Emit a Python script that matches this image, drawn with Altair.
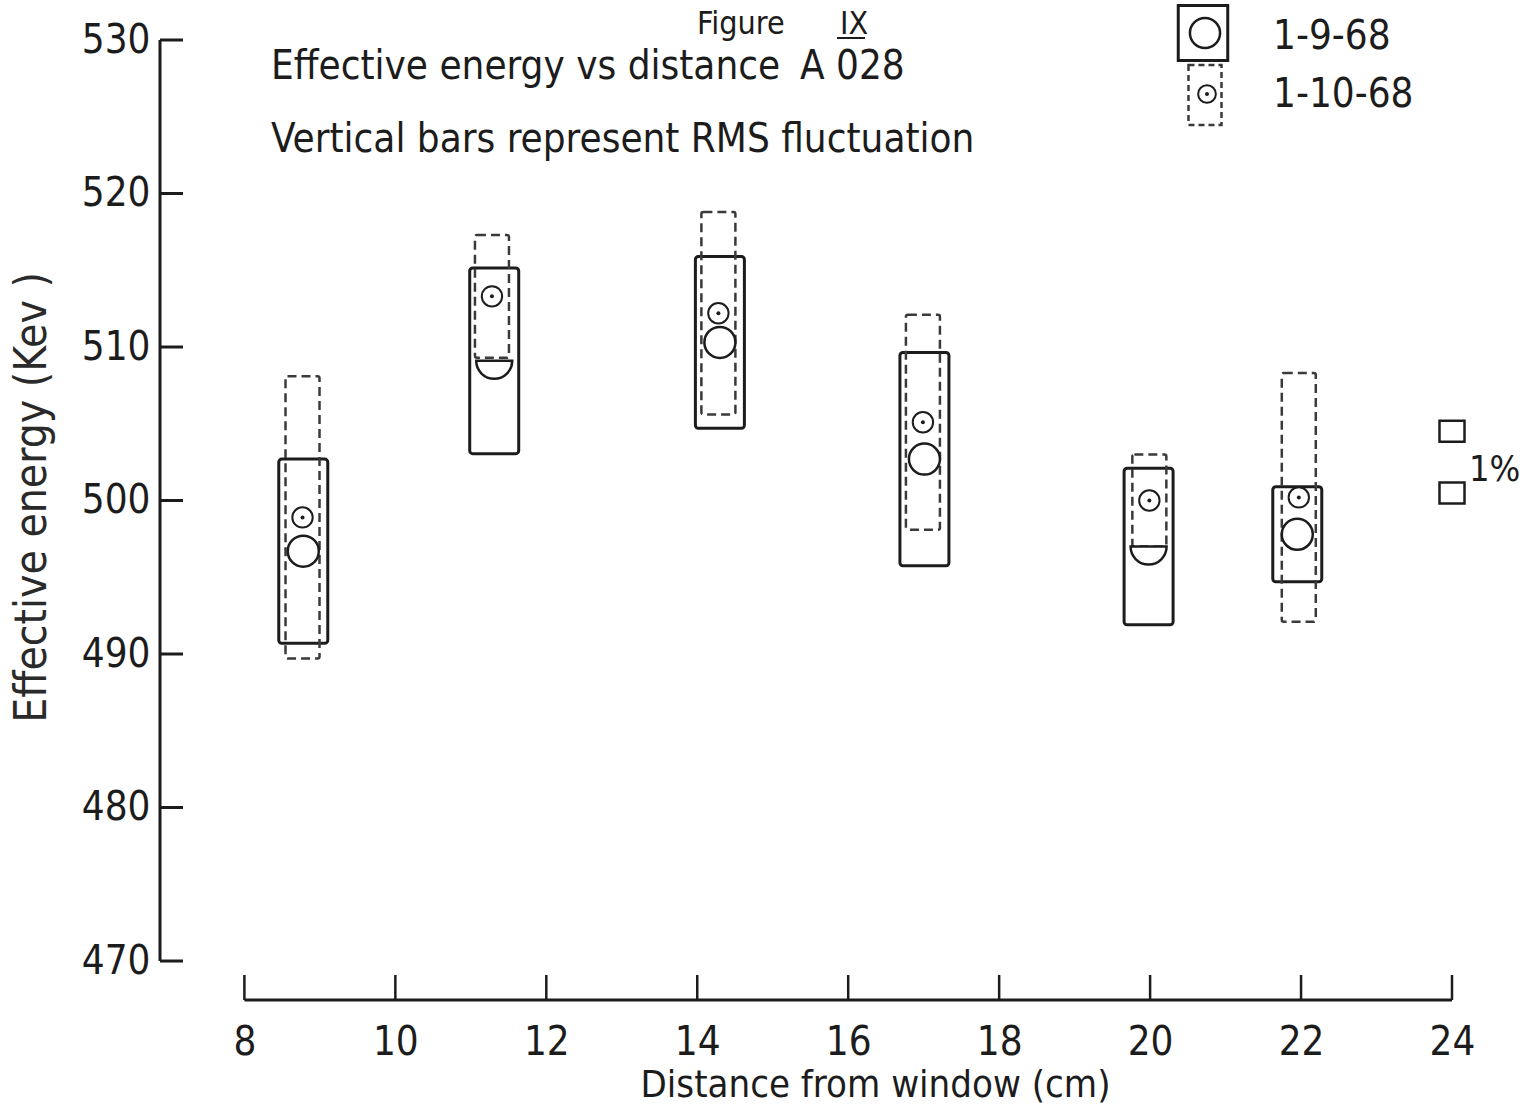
import altair as alt
import pandas as pd

# ---------------- values ----------------
series_names = ["1-9-68", "1-10-68"]

dist_jan9 = [8.78, 11.31, 14.30, 17.01, 19.98, 21.95]
energy_jan9 = [496.7, 509.1, 510.3, 502.7, 497.0, 497.8]
rms_jan9 = [6.0, 6.05, 5.6, 6.95, 5.1, 3.1]

dist_jan10 = [8.77, 11.28, 14.28, 16.99, 19.99, 21.97]
energy_jan10 = [498.9, 513.3, 512.2, 505.1, 500.0, 500.2]
rms_jan10 = [9.2, 4.0, 6.6, 7.0, 3.0, 8.1]

x_tick_values = [8, 10, 12, 14, 16, 18, 20, 22, 24]
y_tick_values = [470, 480, 490, 500, 510, 520, 530]

one_percent_x = [24.0]
one_percent_range = [499.8, 505.2]

figure_word = "Figure"
figure_number = "IX"
note_line1 = "Effective energy vs distance"
note_run = "A 028"
note_line2 = "Vertical bars represent RMS fluctuation"
x_title = "Distance from window (cm)"
y_title = "Effective energy (Kev )"

# ---------------- styles ----------------
INK = "#1c1c1c"
FONT = "DejaVu Sans Condensed, Liberation Sans Narrow, DejaVu Sans, sans-serif"
HALF_MARKER_IDX = [1, 4]          # points drawn as half circles in the original
W, H = 1297, 960
X_DOMAIN = [6.948, 24.0]
Y_DOMAIN = [467.46, 530.0]

xs = alt.Scale(domain=X_DOMAIN, nice=False, zero=False)
ys = alt.Scale(domain=Y_DOMAIN, nice=False, zero=False)

xaxis = alt.Axis(values=x_tick_values, domain=False, ticks=False, grid=False,
                 labelFontSize=40, labelFont=FONT, labelColor=INK, labelPadding=22,
                 labelFlush=False, title=x_title, titleFont=FONT, titleFontSize=38,
                 titleFontWeight="normal", titleColor=INK, titleX=715, titleY=85,
                 titleAlign="center", titleBaseline="middle")
yaxis = alt.Axis(values=y_tick_values, domain=False, ticks=False, grid=False,
                 labelFontSize=40, labelFont=FONT, labelColor=INK, labelPadding=10,
                 title=y_title, titleFont=FONT, titleFontSize=44,
                 titleFontWeight="normal", titleColor="#2a2a2a", titleAngle=270,
                 titleX=-128, titleY=457, titleAlign="center", titleBaseline="middle")


def X(field):
    return alt.X(field, type="quantitative", scale=xs, axis=xaxis)


def Y(field):
    return alt.Y(field, type="quantitative", scale=ys, axis=yaxis)


def series_frame(d, e, r):
    df = pd.DataFrame({"x": d, "e": e, "r": r})
    df["lo"] = df["e"] - df["r"]
    df["hi"] = df["e"] + df["r"]
    return df


df_a = series_frame(dist_jan9, energy_jan9, rms_jan9)
df_a["half"] = [i in HALF_MARKER_IDX for i in range(len(df_a))]
df_b = series_frame(dist_jan10, energy_jan10, rms_jan10)

# ---------------- axes drawn as in the original ----------------
y_line = alt.Chart(pd.DataFrame({"lo": [min(y_tick_values)], "hi": [max(y_tick_values)]})).mark_rule(
    color=INK, strokeWidth=3).encode(x=alt.value(0), y=Y("lo"), y2=alt.Y2("hi"))
y_ticks = alt.Chart(pd.DataFrame({"v": y_tick_values})).mark_rule(
    color=INK, strokeWidth=3).encode(x=alt.value(0), x2=alt.value(23), y=Y("v"))
x_line = alt.Chart(pd.DataFrame({"lo": [min(x_tick_values)], "hi": [max(x_tick_values)]})).mark_rule(
    color=INK, strokeWidth=3).encode(x=X("lo"), x2=alt.X2("hi"), y=alt.value(H))
x_ticks = alt.Chart(pd.DataFrame({"v": x_tick_values})).mark_rule(
    color=INK, strokeWidth=2.5).encode(x=X("v"), y=alt.value(H), y2=alt.value(H - 25))

# ---------------- RMS boxes ----------------
box_a = alt.Chart(df_a).mark_bar(size=49, fill="white", fillOpacity=0, stroke=INK,
                                 strokeWidth=3, cornerRadius=3).encode(
    x=X("x"), y=Y("lo"), y2=alt.Y2("hi"))
box_b = alt.Chart(df_b).mark_bar(size=34, fill="white", fillOpacity=0, stroke="#3a3a3a",
                                 strokeWidth=2.5, strokeDash=[9, 5], cornerRadius=2).encode(
    x=X("x"), y=Y("lo"), y2=alt.Y2("hi"))

# ---------------- markers ----------------
pt_a = alt.Chart(df_a[~df_a["half"]]).mark_point(
    shape="circle", size=962, filled=True, fill="white", stroke=INK, strokeWidth=2.5,
    opacity=1).encode(x=X("x"), y=Y("e"))
pt_a_half = alt.Chart(df_a[df_a["half"]]).mark_point(
    shape="M-1,0A1,1 0 0,0 1,0Z", size=1296, filled=True, fill="white", stroke=INK,
    strokeWidth=2.5, opacity=1).encode(x=X("x"), y=Y("e"))
pt_b = alt.Chart(df_b).mark_point(
    shape="circle", size=415, filled=True, fill="white", stroke=INK, strokeWidth=2,
    opacity=1).encode(x=X("x"), y=Y("e"))
pt_b_dot = alt.Chart(df_b).mark_point(
    shape="circle", size=16, filled=True, color=INK, opacity=1).encode(x=X("x"), y=Y("e"))

# ---------------- 1 % scale ----------------
pct = pd.DataFrame({"x": one_percent_x * 2, "v": one_percent_range})
cap_path = "M-1,-0.84H1V0.84H-1Z"
pct_low = alt.Chart(pct.iloc[[0]]).mark_point(
    shape=cap_path, size=625, filled=False, stroke=INK, strokeWidth=2.5, opacity=1,
    yOffset=-10.5).encode(x=X("x"), y=Y("v"))
pct_high = alt.Chart(pct.iloc[[1]]).mark_point(
    shape=cap_path, size=625, filled=False, stroke=INK, strokeWidth=2.5, opacity=1,
    yOffset=10.5).encode(x=X("x"), y=Y("v"))
pct_text = alt.Chart(pd.DataFrame({"x": one_percent_x, "v": [sum(one_percent_range) / 2],
                                   "t": ["1%"]})).mark_text(
    align="left", baseline="middle", dx=17, dy=8, fontSize=36, font=FONT, color=INK).encode(
    x=X("x"), y=Y("v"), text="t:N")

# ---------------- legend ----------------
def one(text):
    return pd.DataFrame({"t": [text]})


leg1_box = alt.Chart(one(series_names[0])).mark_point(
    shape="M-0.9,-1H0.9V1H-0.9Z", size=3025, filled=False, stroke=INK, strokeWidth=3,
    opacity=1).encode(x=alt.value(1043), y=alt.value(-7))
leg1_circle = alt.Chart(one(series_names[0])).mark_point(
    shape="circle", size=908, filled=True, fill="white", stroke=INK, strokeWidth=2.5,
    opacity=1).encode(x=alt.value(1045), y=alt.value(-7))
leg2_box = alt.Chart(one(series_names[1])).mark_point(
    shape="M-0.55,-1H0.55V1H-0.55Z", size=3600, filled=False, stroke="#3a3a3a",
    strokeWidth=2.5, strokeDash=[6, 4], opacity=1).encode(x=alt.value(1045), y=alt.value(55))
leg2_circle = alt.Chart(one(series_names[1])).mark_point(
    shape="circle", size=314, filled=True, fill="white", stroke=INK, strokeWidth=2,
    opacity=1).encode(x=alt.value(1047), y=alt.value(54))
leg2_dot = alt.Chart(one(series_names[1])).mark_point(
    shape="circle", size=16, filled=True, color=INK, opacity=1).encode(
    x=alt.value(1047), y=alt.value(54))
leg1_text = alt.Chart(one(series_names[0])).mark_text(
    align="left", baseline="middle", fontSize=40, font=FONT, color=INK).encode(
    x=alt.value(1113), y=alt.value(-3), text="t:N")
leg2_text = alt.Chart(one(series_names[1])).mark_text(
    align="left", baseline="middle", fontSize=40, font=FONT, color=INK).encode(
    x=alt.value(1113), y=alt.value(55), text="t:N")

# ---------------- annotations ----------------
def note(text, px, py, baseline="middle", size=40):
    return alt.Chart(one(text)).mark_text(
        align="left", baseline=baseline, fontSize=size, font=FONT, color=INK).encode(
        x=alt.value(px), y=alt.value(py), text="t:N")


fig_word = note(figure_word, 537, -6, baseline="alphabetic", size=32)
fig_num = note(figure_number, 680, -6, baseline="alphabetic", size=32)
fig_underline = alt.Chart(one(figure_number)).mark_rule(color=INK, strokeWidth=2).encode(
    x=alt.value(677), x2=alt.value(705), y=alt.value(-2))
n1 = note(note_line1, 111, 27)
n1b = note(note_run, 640, 27)
n2 = note(note_line2, 111, 100)

chart = alt.layer(
    y_line, y_ticks, x_line, x_ticks,
    box_a, box_b, pt_a, pt_a_half, pt_b, pt_b_dot,
    pct_low, pct_high, pct_text,
    leg1_box, leg1_circle, leg2_box, leg2_circle, leg2_dot, leg1_text, leg2_text,
    fig_word, fig_num, fig_underline, n1, n1b, n2,
).properties(
    width=W, height=H,
    autosize=alt.AutoSizeParams(type="none"),
    padding={"left": 160, "top": 40, "right": 69, "bottom": 107},
    background="white",
).configure_view(stroke=None)

chart.save("out.html", embed_options={"renderer": "svg", "actions": False})
